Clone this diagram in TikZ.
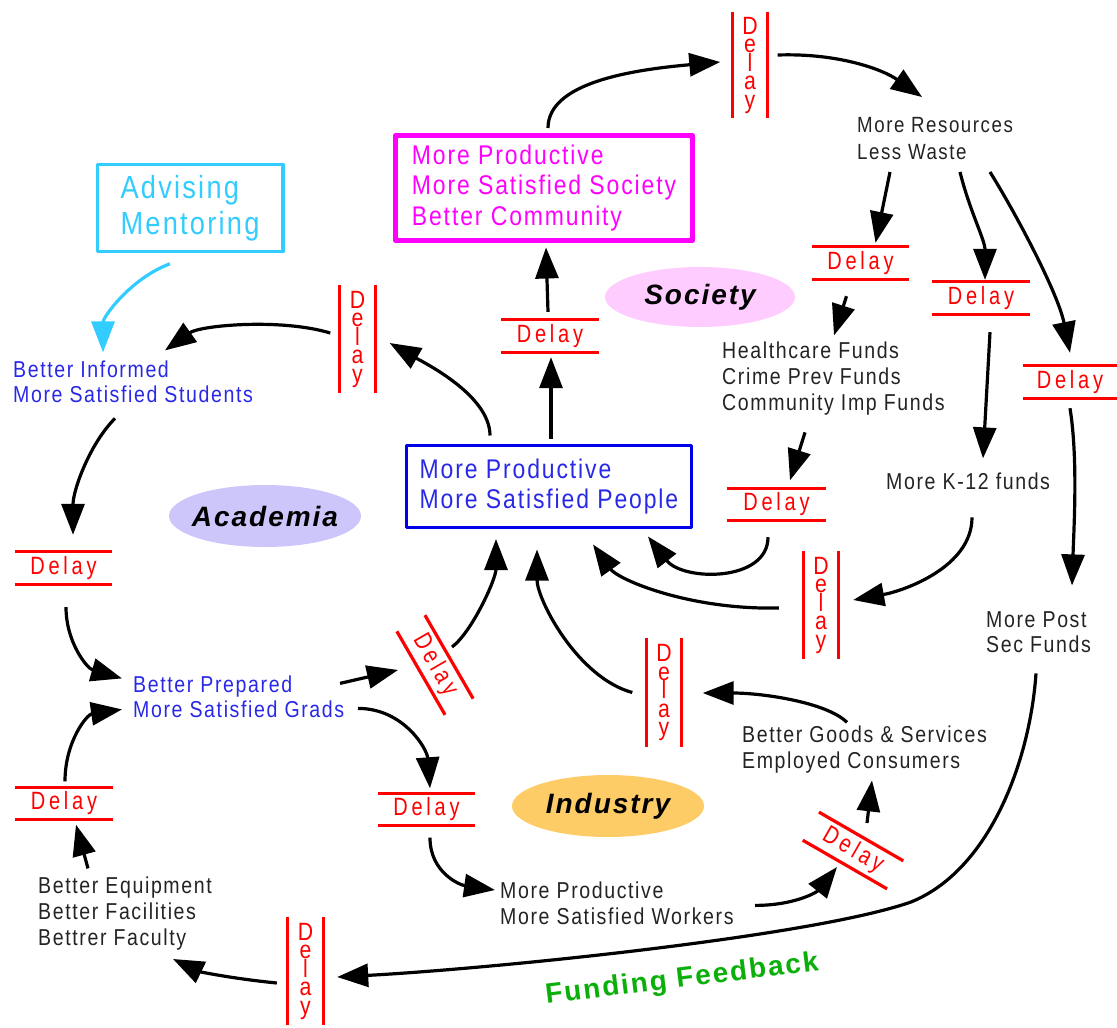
\documentclass[tikz,border=0pt]{standalone}
\usepackage{fontspec}
\setmainfont{Liberation Sans}
\newfontfamily\lblfont[FakeStretch=0.85,LetterSpace=7]{Liberation Sans}
\newfontfamily\delayfont[FakeStretch=0.8,LetterSpace=15]{Liberation Sans}
\newfontfamily\delayvfont[FakeStretch=0.85]{Liberation Sans}
\newfontfamily\tagfont[LetterSpace=7]{Liberation Sans}
\usetikzlibrary{arrows.meta,shapes.geometric}
\definecolor{dred}{RGB}{255,0,0}
\definecolor{ink}{RGB}{35,35,35}
\definecolor{tblue}{RGB}{40,40,230}
\definecolor{bblue}{RGB}{0,0,235}
\definecolor{mag}{RGB}{255,0,255}
\definecolor{cyanc}{RGB}{51,204,255}
\definecolor{acafill}{RGB}{204,198,250}
\definecolor{socfill}{RGB}{255,204,255}
\definecolor{indfill}{RGB}{253,204,102}
\definecolor{fgreen}{RGB}{10,175,10}
\begin{document}
\begin{tikzpicture}[x=1pt, y=-1pt, >={Triangle[length=31pt,width=23pt]}, line join=round,
	flow/.style={->, line width=3.2pt},
	lbl/.style={font=\lblfont\fontsize{23}{26}\selectfont, text=ink, align=left, inner sep=0pt, anchor=north west},
	lblb/.style={lbl, text=tblue},
	box/.style={font=\lblfont\fontsize{27}{30.5}\selectfont, align=left, inner sep=0pt},
	tag/.style={ellipse, inner sep=0pt, minimum width=192pt, minimum height=62pt, font=\tagfont\bfseries\itshape\fontsize{28}{28}\selectfont},
	delayline/.style={draw=dred, line width=3.2pt},
	delayh/.style={font=\delayfont\fontsize{25}{25}\selectfont, text=dred, inner sep=0pt, minimum width=97pt, minimum height=32pt,
		append after command={(\tikzlastnode.north west) edge[delayline] (\tikzlastnode.north east)
			(\tikzlastnode.south west) edge[delayline] (\tikzlastnode.south east)}},
	delayv/.style={font=\delayvfont\fontsize{25}{18.5}\selectfont, text=dred, align=center, inner sep=0pt, minimum width=35pt, minimum height=107pt,
		append after command={(\tikzlastnode.north west) edge[delayline] (\tikzlastnode.south west)
			(\tikzlastnode.north east) edge[delayline] (\tikzlastnode.south east)}}]
	\useasboundingbox (0,0) rectangle (1117,1028);
	% boxes and sector tags
	\node[box, draw=mag, line width=5pt, text=mag, minimum width=297pt, minimum height=105pt] (soc) at (544,188) {More Productive\\More Satisfied Society\\Better Community};
	\node[box, draw=bblue, line width=3pt, text=tblue, minimum width=285.5pt, minimum height=82pt] (ppl) at (549,486.5) {More Productive\\More Satisfied People};
	\node[box, draw=cyanc, line width=3.5pt, text=cyanc, font=\lblfont\fontsize{32}{36}\selectfont, minimum width=185.5pt, minimum height=87pt] (adv) at (190,208) {Advising\\Mentoring};
	\node[tag, fill=acafill] (aca) at (265,516) {\makebox[0pt]{Academia}};
	\node[tag, fill=socfill, minimum width=190pt, minimum height=60pt] (socl) at (700,297) {\makebox[0pt]{Society}};
	\node[tag, fill=indfill] (ind) at (608,806) {\makebox[0pt]{Industry}};
	% labels
	\node[lbl, font=\lblfont\fontsize{22}{27}\selectfont] (res) at (857,117) {More Resources\\Less Waste};
	\node[lbl] (hc) at (722,341.4) {Healthcare Funds\\Crime Prev Funds\\Community Imp Funds};
	\node[lbl] (k12) at (886,472.4) {More K-12 funds};
	\node[lbl, font=\lblfont\fontsize{23}{25}\selectfont] (post) at (986,611.4) {More Post\\Sec Funds};
	\node[lbl] (goods) at (742,725.4) {Better Goods \& Services\\Employed Consumers};
	\node[lbl] (work) at (500,881.4) {More Productive\\More Satisfied Workers};
	\node[lbl] (equip) at (38,876.4) {Better Equipment\\Better Facilities\\Bettrer Faculty};
	\node[lblb, font=\lblfont\fontsize{23}{25}\selectfont] (stud) at (13,360.4) {Better Informed\\More Satisfied Students};
	\node[lblb, font=\lblfont\fontsize{23}{25}\selectfont] (grad) at (133,675.4) {Better Prepared\\More Satisfied Grads};
	\node[font=\tagfont\bfseries\fontsize{28}{28}\selectfont, text=fgreen, rotate=7] (fund) at (682,980) {Funding Feedback};
	% delays
	\node[delayv, minimum height=106pt] (dTop) at (750,65) {D\\e\\l\\a\\y};
	\node[delayv, minimum height=108pt] (dStud) at (357.5,339) {D\\e\\l\\a\\y};
	\node[delayh] (dSoc) at (550,336) {Delay};
	\node[delayh] (dHc) at (860.5,263) {Delay};
	\node[delayh] (dK) at (981,298) {Delay};
	\node[delayh, minimum width=94pt] (dPost) at (1070,382) {Delay};
	\node[delayh, minimum width=99pt] (dPpl) at (776.5,504.5) {Delay};
	\node[delayv] (dK2) at (821,605) {D\\e\\l\\a\\y};
	\node[delayv, minimum height=109pt] (dInd) at (664,692.5) {D\\e\\l\\a\\y};
	\node[delayh] (dAca) at (63.5,568) {Delay};
	\node[delayh, rotate=-60, minimum width=96pt] (dGrad) at (435,665) {Delay};
	\node[delayh, rotate=-30] (dWork) at (853,850.5) {Delay};
	\node[delayh] (dGr2) at (426.5,809.5) {Delay};
	\node[delayh] (dEq) at (64,803.5) {Delay};
	\node[delayv, minimum height=108pt] (dFund) at (305.5,971) {D\\e\\l\\a\\y};
	\coordinate (fbend) at (911,902);
	% society loop
	\draw[flow] ([shift={(4,-5)}]soc.north) .. controls +(0,-45) and +(-90,8) .. ([shift={(-12,-3)}]dTop.west);
	\draw[flow] ([shift={(10,-10)}]dTop.east) .. controls +(60,-2) and +(-40,-28) .. ([shift={(65,-20)}]res.north west);
	\draw[flow] ([shift={(33,55)}]res.north west) -- ([shift={(15,-4)}]dHc.north);
	\draw[flow] ([shift={(103,55)}]res.north west) .. controls +(10,40) and +(0,-40) .. ([shift={(4,-2)}]dK.north);
	\draw[flow] ([shift={(133,55)}]res.north west) .. controls +(25,40) and +(-12,-60) .. ([shift={(0,-13)}]dPost.north);
	\draw[flow] ([shift={(-14,17)}]dHc.south) -- ([shift={(112,-6)}]hc.north west);
	\draw[flow] ([shift={(83,91)}]hc.north west) -- ([shift={(13.5,-8)}]dPpl.north);
	\draw[flow] ([shift={(9,18)}]dK.south) -- ([shift={(97,-14)}]k12.north west);
	\draw[flow] ([shift={(0,10)}]dPost.south) .. controls +(8,50) and +(2,-60) .. ([shift={(86,-26)}]post.north west);
	\draw[flow] ([shift={(86,45)}]k12.north west) .. controls +(0,50) and +(50,-9) .. ([shift={(14.5,-5)}]dK2.east);
	\draw[flow] ([shift={(-8.5,16.5)}]dPpl.south) .. controls +(0,45) and +(35,45) .. ([shift={(99,7.5)}]ppl.south);
	\draw[flow] ([shift={(-24.5,3)}]dK2.west) .. controls +(-90,2) and +(25,35) .. ([shift={(44,15.5)}]ppl.south);
	\draw[flow] ([shift={(2,-5.5)}]ppl.north) -- ([shift={(1,5)}]dSoc.south);
	\draw[flow] ([shift={(-2,-8)}]dSoc.north) -- ([shift={(2,4.5)}]soc.south);
	% industry loop
	\draw[flow] ([shift={(-14,0)}]dInd.west) .. controls +(-55,-15) and +(0,50) .. ([shift={(-12,20.5)}]ppl.south);
	\draw[flow] ([shift={(105,-3)}]goods.north west) .. controls +(-20,-20) and +(60,0) .. ([shift={(21,0.5)}]dInd.east);
	\draw[flow] ([shift={(225,33)}]grad.north west) .. controls +(45,0) and +(-3,-40) .. ([shift={(3.5,-5)}]dGr2.north);
	\draw[flow] ([shift={(3.5,12)}]dGr2.south) .. controls +(0,35) and +(-35,-5) .. ([shift={(-5,8.6)}]work.north west);
	\draw[flow] ([shift={(255,24)}]work.north west) .. controls +(40,0) and +(-20,25) .. ([shift={(-16,16.5)}]dWork.center);
	\draw[flow] ([shift={(14,-27.5)}]dWork.center) -- ([shift={(130,55)}]goods.north west);
	% academia loop
	\draw[flow] ([shift={(207,8)}]grad.north west) -- ([shift={(-37,5)}]dGrad.center);
	\draw[flow] ([shift={(17,-18)}]dGrad.center) .. controls +(20,-15) and +(0,40) .. ([shift={(-53,10)}]ppl.south);
	\draw[flow] ([shift={(-59,-8.5)}]ppl.north) .. controls +(0,-40) and +(35,20) .. ([shift={(14.5,4)}]dStud.east);
	\draw[flow] ([shift={(-9.5,-6)}]dStud.west) .. controls +(-50,-15) and +(35,-25) .. ([shift={(152,-10)}]stud.north west);
	\draw[flow, cyanc] ([shift={(-20,10.5)}]adv.south) .. controls +(-40,15) and +(0,-35) .. ([shift={(90,-8)}]stud.north west);
	\draw[flow] ([shift={(102,58)}]stud.north west) .. controls +(-25,25) and +(0,-45) .. ([shift={(9.5,-17)}]dAca.north);
	\draw[flow] ([shift={(2.5,23)}]dAca.south) .. controls +(0,35) and +(-35,-10) .. ([shift={(-11,3)}]grad.north west);
	\draw[flow] ([shift={(1,-6)}]dEq.north) .. controls +(0,-40) and +(-35,5) .. ([shift={(-11,34)}]grad.north west);
	\draw[flow] ([shift={(50,-8)}]equip.north west) -- ([shift={(12,5)}]dEq.south);
	% funding feedback
	\draw[flow] ([shift={(50,62)}]post.north west) .. controls +(-6,87) and +(79,-32) .. (fbend) .. controls +(-100,35) and +(150,-8) .. ([shift={(14,6)}]dFund.east);
	\draw[flow] ([shift={(-11,12)}]dFund.west) .. controls +(-50,-5) and +(25,12) .. ([shift={(135,82.6)}]equip.north west);
\end{tikzpicture}
\end{document}
